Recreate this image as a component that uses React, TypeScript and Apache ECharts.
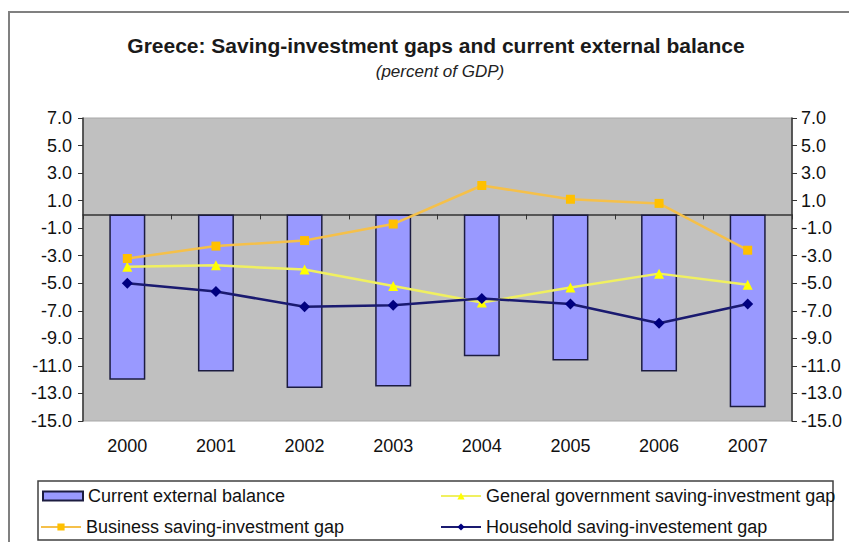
import React, { useEffect, useRef } from "react";
import * as echarts from "echarts";

const years = ["2000", "2001", "2002", "2003", "2004", "2005", "2006", "2007"];
const currentExternalBalance = [-12.0, -11.4, -12.6, -12.5, -10.3, -10.6, -11.4, -14.0];
const businessGap = [-3.2, -2.3, -1.9, -0.7, 2.1, 1.1, 0.8, -2.6];
const generalGovGap = [-3.8, -3.7, -4.0, -5.2, -6.4, -5.3, -4.3, -5.1];
const householdGap = [-5.0, -5.6, -6.7, -6.6, -6.1, -6.5, -7.9, -6.5];
const yTicks = [7, 5, 3, 1, -1, -3, -5, -7, -9, -11, -13, -15];

const FONT = "'Liberation Sans', Arial, sans-serif";

export default function App() {
  const ref = useRef<HTMLDivElement>(null);
  useEffect(() => {
    if (!ref.current) return;
    const chart = echarts.init(ref.current, null, { renderer: "svg" });
    const yAxisCommon = (position: "left" | "right", margin: number) => ({
      type: "value",
      position,
      min: -15,
      max: 7,
      axisLine: { show: true, onZero: false, lineStyle: { color: "#333", width: 1.5 } },
      axisTick: { show: true, length: 5, customValues: yTicks, lineStyle: { color: "#333", width: 1 } },
      axisLabel: {
        customValues: yTicks,
        formatter: (v: number) => v.toFixed(1),
        fontSize: 18,
        color: "#111",
        fontFamily: FONT,
        margin,
      },
      splitLine: { show: false },
    });
    const legendCommon = {
      padding: 0,
      itemWidth: 40,
      itemHeight: 9,
      textStyle: { fontSize: 18, color: "#111", fontFamily: FONT },
    };
    chart.setOption({
      animation: false,
      backgroundColor: "#ffffff",
      grid: {
        left: 83,
        right: 57,
        top: 118,
        bottom: 121,
        show: true,
        backgroundColor: "#c0c0c0",
        borderColor: "#a8a8a8",
        borderWidth: 1,
      },
      graphic: [
        {
          type: "rect",
          shape: { x: 9, y: 12, width: 900, height: 600 },
          style: { fill: "none", stroke: "#808080", lineWidth: 2 },
          silent: true,
          z: -1,
        },
        {
          type: "text",
          x: 436,
          y: 45,
          style: {
            text: "Greece: Saving-investment gaps and current external balance",
            align: "center",
            verticalAlign: "middle",
            fontSize: 21,
            fontWeight: "bold",
            fontFamily: FONT,
            fill: "#1a1a1a",
          },
        },
        {
          type: "text",
          x: 440,
          y: 71,
          style: {
            text: "(percent of GDP)",
            align: "center",
            verticalAlign: "middle",
            fontSize: 17,
            fontStyle: "italic",
            fontFamily: FONT,
            fill: "#222",
          },
        },
        {
          type: "rect",
          shape: { x: 38, y: 481, width: 795, height: 59 },
          style: { fill: "#ffffff", stroke: "#404040", lineWidth: 1.5 },
          silent: true,
          z: -1,
        },
      ],
      legend: [
        { ...legendCommon, icon: "rect", data: ["Current external balance"], left: 42, top: 487 },
        { ...legendCommon, data: ["General government saving-investment gap"], left: 440, top: 487 },
        { ...legendCommon, data: ["Business saving-investment gap"], left: 40, top: 518 },
        { ...legendCommon, data: ["Household saving-investement gap"], left: 440, top: 518 },
      ],
      xAxis: [
        {
          type: "category",
          data: years,
          position: "bottom",
          axisLine: { show: true, onZero: true, lineStyle: { color: "#333", width: 1.5 } },
          axisTick: { show: true, length: 5, lineStyle: { color: "#333" } },
          axisLabel: { show: false },
          splitLine: { show: false },
        },
        {
          type: "category",
          data: years,
          position: "bottom",
          axisLine: { show: false, onZero: false },
          axisTick: { show: false },
          axisLabel: { fontSize: 18, color: "#111", fontFamily: FONT, margin: 16 },
          splitLine: { show: false },
        },
      ],
      yAxis: [yAxisCommon("left", 11), yAxisCommon("right", 9)],
      series: [
        {
          name: "Current external balance",
          type: "bar",
          data: currentExternalBalance,
          barWidth: 36,
          itemStyle: { color: "#9999ff", borderColor: "#1c1c40", borderWidth: 1.5 },
        },
        {
          name: "General government saving-investment gap",
          type: "line",
          data: generalGovGap,
          symbol: "triangle",
          symbolSize: 10,
          lineStyle: { color: "#f0f060", width: 2.5 },
          itemStyle: { color: "#ffff00" },
        },
        {
          name: "Business saving-investment gap",
          type: "line",
          data: businessGap,
          symbol: "rect",
          symbolSize: 9,
          lineStyle: { color: "#f5c04a", width: 2.5 },
          itemStyle: { color: "#ffc000" },
        },
        {
          name: "Household saving-investement gap",
          type: "line",
          data: householdGap,
          symbol: "diamond",
          symbolSize: 11,
          lineStyle: { color: "#1a1a70", width: 2.5 },
          itemStyle: { color: "#000080" },
        },
      ],
    });
    return () => chart.dispose();
  }, []);
  return (
    <div
      ref={ref}
      style={{ position: "fixed", left: 0, top: 0, width: 849, height: 542 }}
    />
  );
}
